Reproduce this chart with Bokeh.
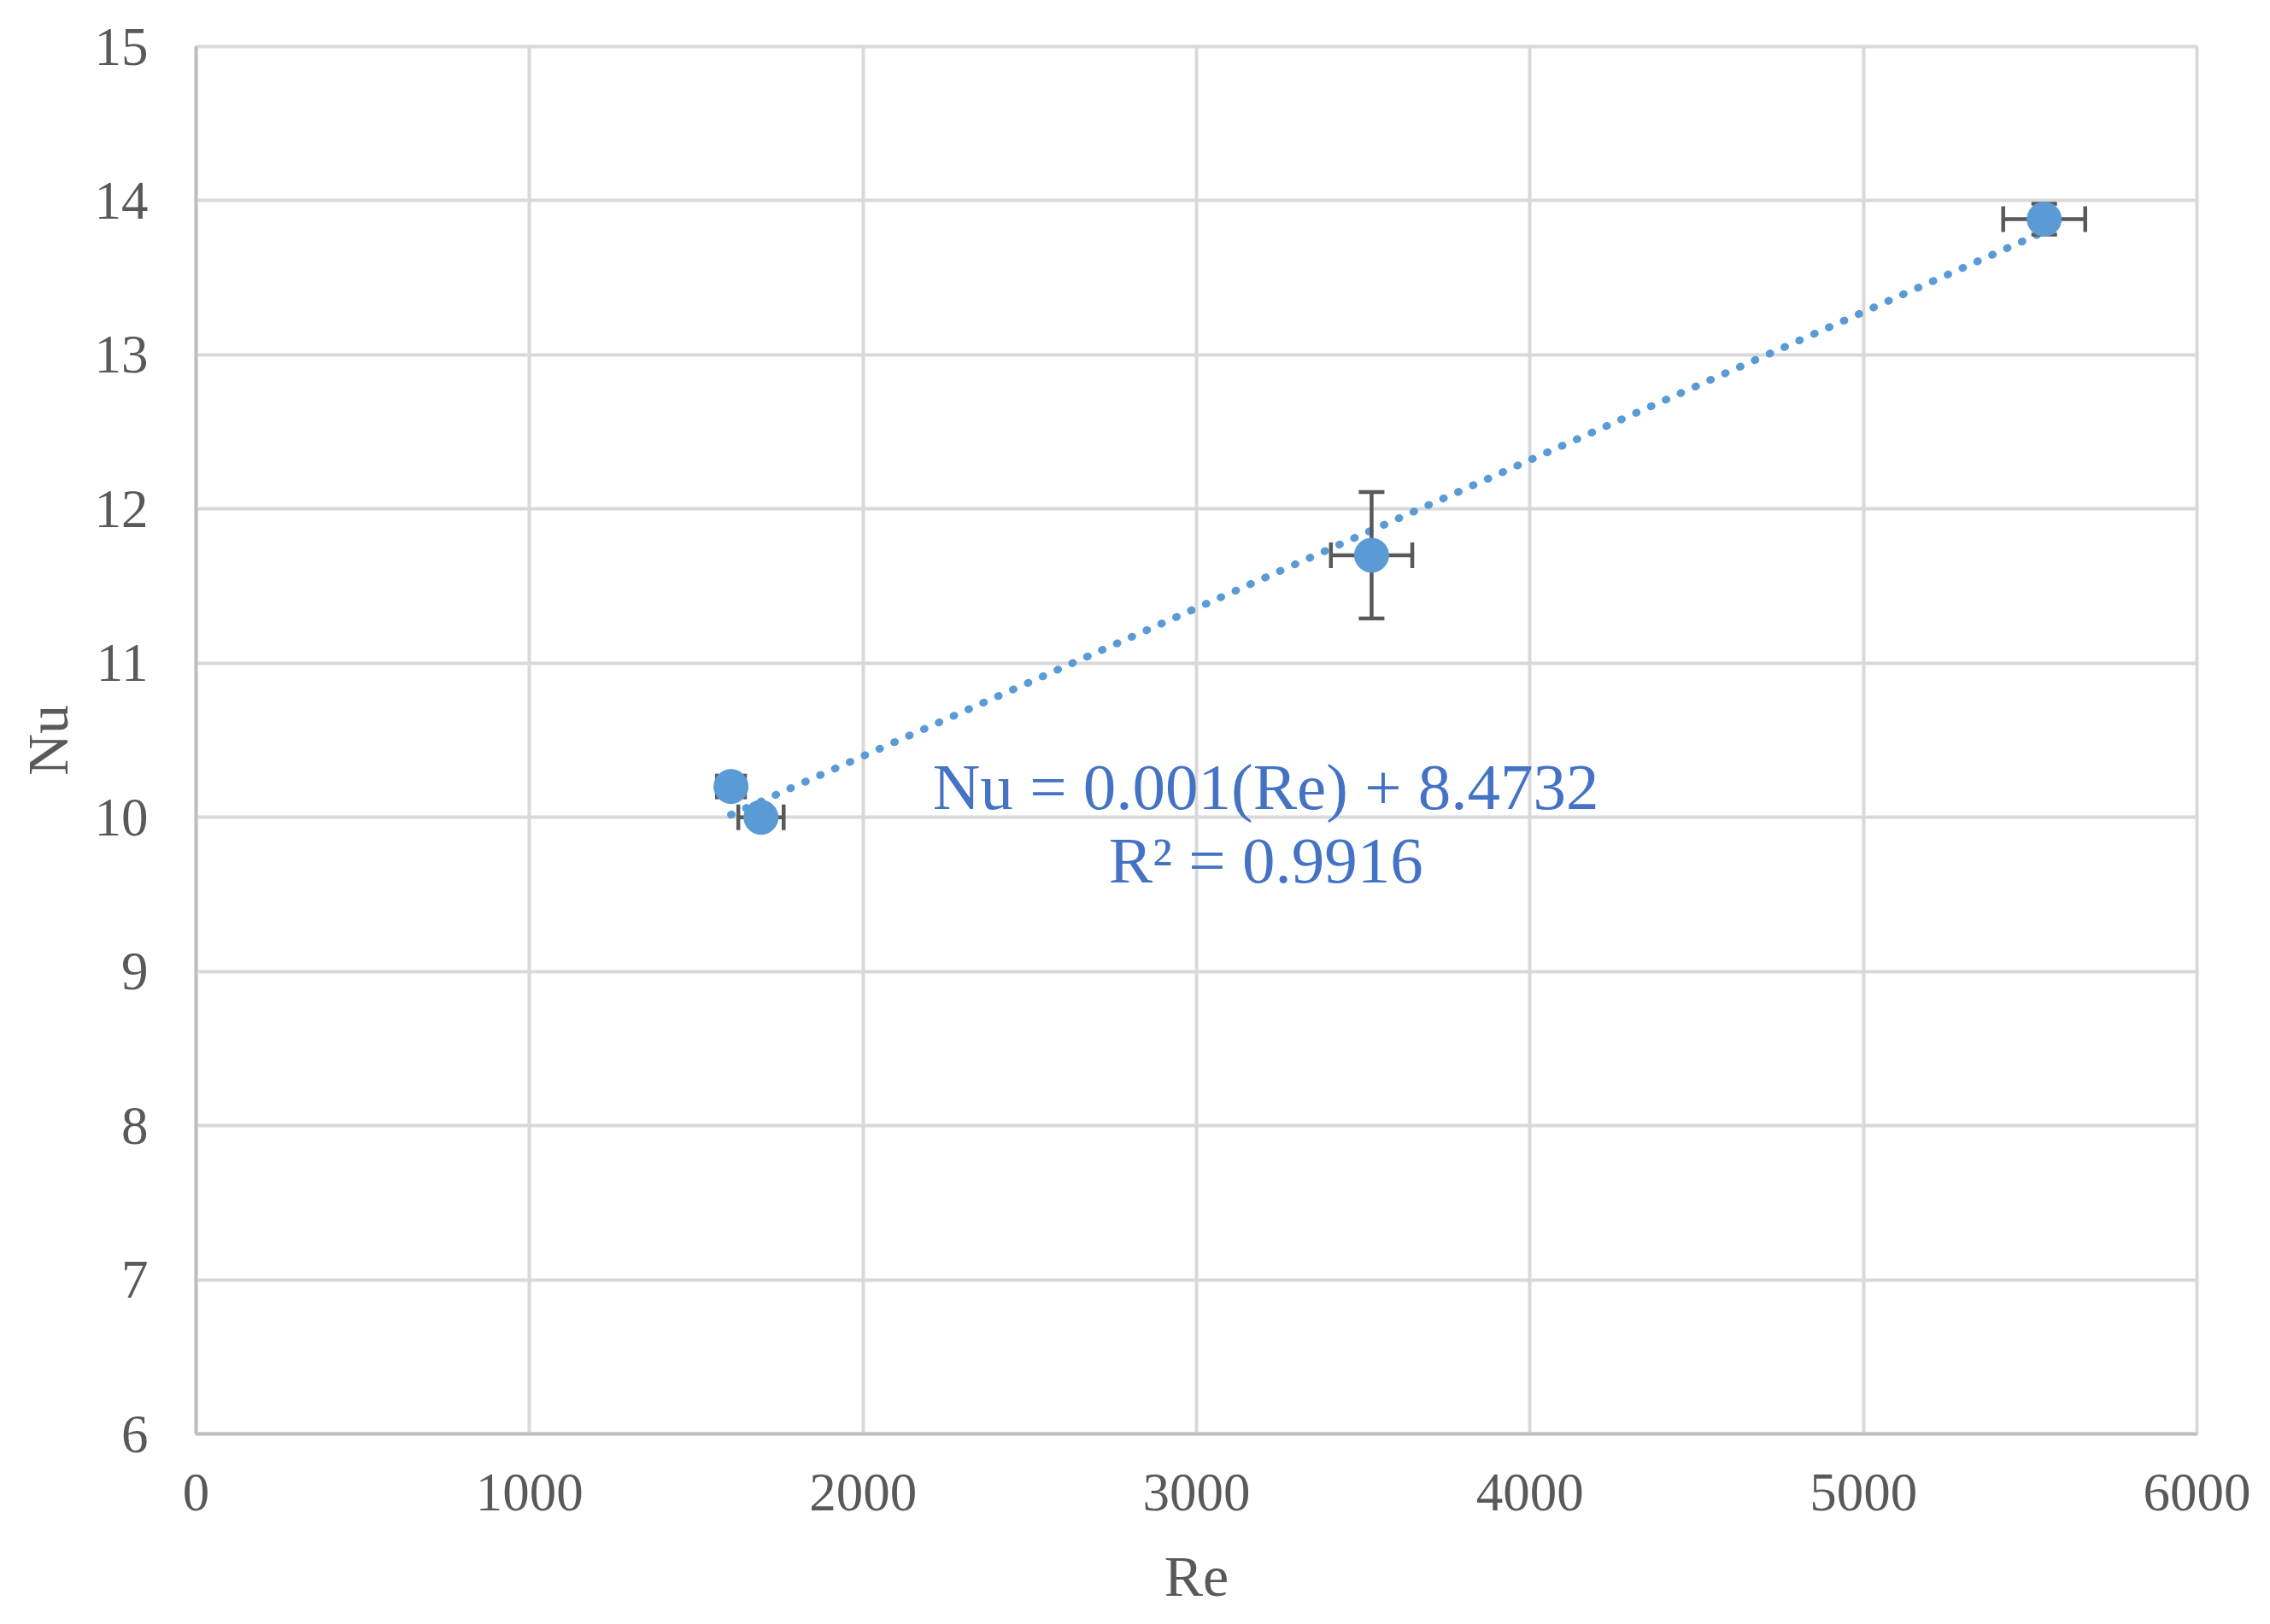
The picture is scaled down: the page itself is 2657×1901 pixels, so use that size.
import numpy as np
from bokeh.plotting import figure
from bokeh.models import Range1d, FixedTicker, Label, ColumnDataSource
from bokeh.embed import file_html
from bokeh.resources import INLINE

# data
re_vals = [1604, 1694, 3525, 5542]
nu_vals = [10.20, 10.00, 11.70, 13.88]
re_err = [42, 68, 122, 123]
nu_err = [0.05, 0.04, 0.41, 0.10]
x_ticks = [0, 1000, 2000, 3000, 4000, 5000, 6000]
y_ticks = [6, 7, 8, 9, 10, 11, 12, 13, 14, 15]
eq_text = "Nu = 0.001(Re) + 8.4732"
r2_text = "R² = 0.9916"

SERIF = "Liberation Serif"
GRAY = "#595959"
BLUE = "#5B9BD5"

p = figure(width=2641, height=1895, output_backend="svg", toolbar_location=None,
           x_range=Range1d(0, 6000), y_range=Range1d(6, 15),
           min_border_left=229, min_border_right=70, min_border_top=54, min_border_bottom=217)
p.background_fill_color = "white"
p.border_fill_color = "white"
p.outline_line_color = "#D9D9D9"
p.outline_line_width = 4

for ax in (p.xaxis[0], p.yaxis[0]):
    ax.axis_line_color = "#BFBFBF"
    ax.axis_line_width = 4
    ax.major_tick_line_color = None
    ax.minor_tick_line_color = None
    ax.major_tick_out = 0
    ax.major_tick_in = 0
    ax.major_label_text_font = SERIF
    ax.major_label_text_font_size = "63px"
    ax.major_label_text_color = GRAY
    ax.axis_label_text_font = SERIF
    ax.axis_label_text_font_size = "68px"
    ax.axis_label_text_font_style = "normal"
    ax.axis_label_text_color = GRAY

p.xaxis.ticker = FixedTicker(ticks=x_ticks)
p.yaxis.ticker = FixedTicker(ticks=y_ticks)
p.xaxis.axis_label = "Re"
p.yaxis.axis_label = "Nu"
p.xaxis.major_label_standoff = 47
p.yaxis.major_label_standoff = 56
p.xaxis.axis_label_standoff = 36
p.yaxis.axis_label_standoff = 14

for g in (p.xgrid[0], p.ygrid[0]):
    g.grid_line_color = "#D9D9D9"
    g.grid_line_width = 4

# trend line (least-squares fit of the data)
slope, intercept = np.polyfit(re_vals, nu_vals, 1)
tx = [min(re_vals), max(re_vals)]
ty = [slope * v + intercept for v in tx]
p.line(tx, ty, line_color=BLUE, line_width=9, line_dash="1 18", line_cap="round")

src = ColumnDataSource(dict(
    x=re_vals, y=nu_vals,
    x0=[a - b for a, b in zip(re_vals, re_err)],
    x1=[a + b for a, b in zip(re_vals, re_err)],
    y0=[a - b for a, b in zip(nu_vals, nu_err)],
    y1=[a + b for a, b in zip(nu_vals, nu_err)],
))

# error bars
p.segment(x0="x0", y0="y", x1="x1", y1="y", source=src, line_color=GRAY, line_width=4.5)
p.segment(x0="x", y0="y0", x1="x", y1="y1", source=src, line_color=GRAY, line_width=4.5)
p.scatter(x="x0", y="y", source=src, marker="dash", size=30, angle=np.pi / 2,
          line_color=GRAY, line_width=4.5)
p.scatter(x="x1", y="y", source=src, marker="dash", size=30, angle=np.pi / 2,
          line_color=GRAY, line_width=4.5)
p.scatter(x="x", y="y0", source=src, marker="dash", size=30, line_color=GRAY, line_width=4.5)
p.scatter(x="x", y="y1", source=src, marker="dash", size=30, line_color=GRAY, line_width=4.5)

# markers
p.scatter(x="x", y="y", source=src, marker="circle", size=40,
          fill_color=BLUE, line_color=BLUE, line_width=1)

# trendline equation
p.add_layout(Label(x=3208, y=10.20, text=eq_text, text_align="center", text_baseline="alphabetic",
                   text_font=SERIF, text_font_size="77px", text_color="#4472C4"))
p.add_layout(Label(x=3208, y=9.72, text=r2_text, text_align="center", text_baseline="alphabetic",
                   text_font=SERIF, text_font_size="77px", text_color="#4472C4"))

open("out.html", "w").write(file_html(p, INLINE))
